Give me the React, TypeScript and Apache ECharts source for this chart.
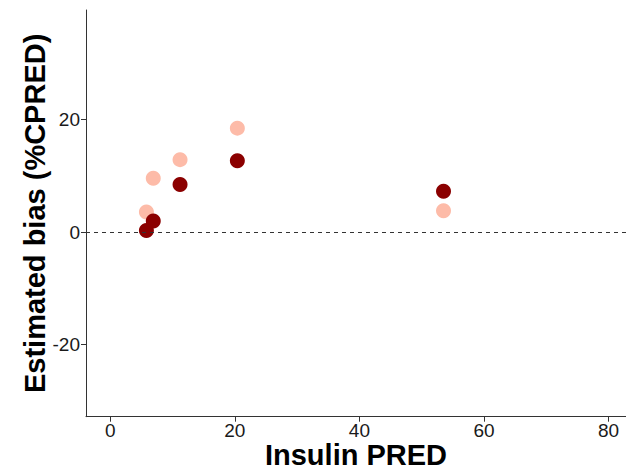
import React, { useEffect, useRef } from "react";
import * as echarts from "echarts";

const insulinPred = [5.8, 6.9, 11.2, 20.4, 53.5];
const biasLight = [3.6, 9.6, 12.9, 18.5, 3.8];
const biasDark = [0.3, 2.0, 8.5, 12.7, 7.3];
const xTicks = [0, 20, 40, 60, 80];
const yTicks = [-20, 0, 20];

export default function App() {
  const ref = useRef<HTMLDivElement>(null);
  useEffect(() => {
    const chart = echarts.init(ref.current!, null, { renderer: "svg" });
    const font = "Liberation Sans, Arial, sans-serif";
    chart.setOption({
      animation: false,
      backgroundColor: "#ffffff",
      grid: {
        left: 86,
        right: 0,
        top: 10,
        bottom: 52.3,
        containLabel: false,
        outerBoundsMode: "none",
      },
      xAxis: {
        type: "value",
        min: -3.9,
        max: 82.8,
        name: "Insulin PRED",
        nameLocation: "middle",
        nameGap: 25,
        nameMoveOverlap: false,
        nameTextStyle: {
          fontFamily: font,
          fontSize: 29,
          lineHeight: 26,
          fontWeight: "bold",
          color: "#000",
        },
        axisLine: { show: true, onZero: false, lineStyle: { color: "#333", width: 1 } },
        axisTick: { show: true, length: 5, lineStyle: { color: "#333" }, customValues: xTicks },
        axisLabel: {
          fontFamily: font,
          fontSize: 19,
          lineHeight: 19,
          color: "#1a1a1a",
          margin: 4,
          customValues: xTicks,
        },
        splitLine: { show: false },
      },
      yAxis: {
        type: "value",
        min: -32.8,
        max: 39.5,
        name: "Estimated bias (%CPRED)",
        nameLocation: "middle",
        nameGap: 37,
        nameMoveOverlap: false,
        nameTextStyle: { fontFamily: font, fontSize: 29, fontWeight: "bold", color: "#000" },
        axisLine: { show: true, onZero: false, lineStyle: { color: "#333", width: 1 } },
        axisTick: { show: true, length: 5, lineStyle: { color: "#333" }, customValues: yTicks },
        axisLabel: { fontFamily: font, fontSize: 19, color: "#1a1a1a", margin: 6, customValues: yTicks },
        splitLine: { show: false },
      },
      series: [
        {
          type: "scatter",
          data: insulinPred.map((x, i) => [x, biasLight[i]]),
          symbolSize: 15,
          itemStyle: { color: "#FDBBA8", opacity: 1 },
          markLine: {
            silent: true,
            symbol: "none",
            label: { show: false },
            lineStyle: { color: "#333", type: [4, 4], width: 1 },
            data: [{ yAxis: 0 }],
          },
        },
        {
          type: "scatter",
          data: insulinPred.map((x, i) => [x, biasDark[i]]),
          symbolSize: 15,
          itemStyle: { color: "#8B0000", opacity: 1 },
        },
      ],
    });
    return () => chart.dispose();
  }, []);
  return (
    <div
      ref={ref}
      style={{ position: "absolute", left: 0, top: 0, width: 626, height: 469 }}
    />
  );
}
